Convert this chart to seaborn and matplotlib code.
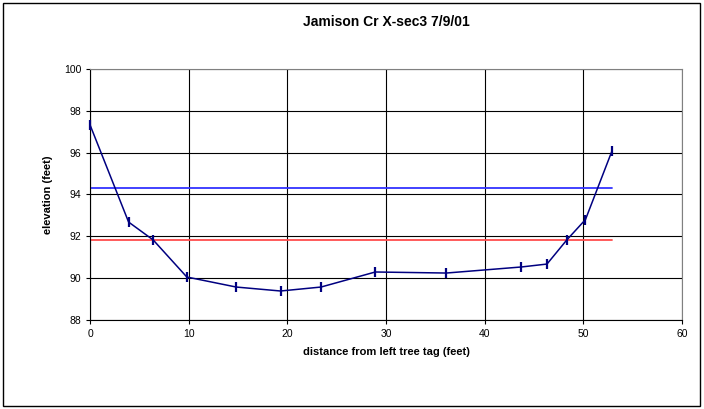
import pandas as pd
import seaborn as sns
import matplotlib.pyplot as plt
from matplotlib.patches import Rectangle

# survey data
distance = [0, 3.9, 6.4, 9.8, 14.8, 19.3, 23.4, 28.9, 36.1, 43.7, 46.3, 48.3, 50.2, 52.9]
elevation = [97.32, 92.68, 91.82, 90.05, 89.57, 89.38, 89.57, 90.29, 90.24, 90.53, 90.67, 91.82, 92.8, 96.1]
bankfull_x = [0, 52.9]
bankfull_y = [94.3, 94.3]
water_x = [0, 52.9]
water_y = [91.8, 91.8]

df = pd.DataFrame({'distance': distance, 'elevation': elevation})

sns.set_style('white')
plt.rcParams['font.family'] = ['Liberation Sans', 'DejaVu Sans']
plt.rcParams['text.color'] = 'black'
plt.rcParams['axes.labelcolor'] = 'black'

fig = plt.figure(figsize=(7.04, 4.09), dpi=100)
ax = fig.add_axes([0.128, 0.218, 0.841, 0.613])

sns.lineplot(x=bankfull_x, y=bankfull_y, ax=ax, color='#3333ff', lw=1.3)
sns.lineplot(x=water_x, y=water_y, ax=ax, color='#ff4d4d', lw=1.3)
sns.lineplot(data=df, x='distance', y='elevation', ax=ax, color='#000080',
             lw=1.1, marker='|', markersize=7, markeredgewidth=1.6,
             markeredgecolor='#000080', sort=False, clip_on=False, zorder=5)

ax.set_xlim(0, 60)
ax.set_ylim(88, 100)
ax.set_xticks(range(0, 61, 10))
ax.set_yticks(range(88, 101, 2))
ax.grid(True, color='black', lw=0.8)
for s in ax.spines.values():
    s.set_color('#808080')
ax.spines['left'].set_color('black')
ax.spines['bottom'].set_color('black')
ax.tick_params(axis='both', labelsize=7.5, length=3, direction='out', colors='black')
ax.tick_params(left=True, bottom=True)

ax.set_title('Jamison Cr X-sec3 7/9/01', fontsize=10, fontweight='bold', pad=31, color='black')
ax.set_xlabel('distance from left tree tag (feet)', fontsize=8, fontweight='bold', labelpad=6)
ax.set_ylabel('elevation (feet)', fontsize=8, fontweight='bold', labelpad=8)

fig.patches.append(Rectangle((0.004, 0.007), 0.991, 0.986, transform=fig.transFigure,
                             fill=False, edgecolor='black', lw=1))

fig.savefig('out.png', dpi=100)
